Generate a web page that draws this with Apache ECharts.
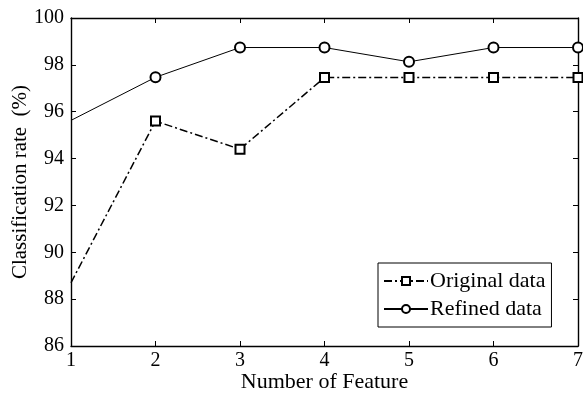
<!DOCTYPE html>
<html><head><meta charset="utf-8">
<script src="https://cdn.jsdelivr.net/npm/echarts@6/dist/echarts.min.js"></script>
<style>html,body{margin:0;padding:0;background:#fff}#c{width:583px;height:394px}</style>
</head><body><div id="c"></div>
<script>
const features = [1, 2, 3, 4, 5, 6, 7];
const originalData = [88.7, 95.6, 94.4, 97.46, 97.46, 97.46, 97.46];
const refinedData = [95.63, 97.47, 98.74, 98.74, 98.13, 98.74, 98.74];
const yTicks = [86, 88, 90, 92, 94, 96, 98, 100];

const font = 'Liberation Serif';
const chart = echarts.init(document.getElementById('c'));
const axisLine = {show: true, lineStyle: {color: '#000', width: 1.4}};
const tick = {inside: true, length: 5, lineStyle: {color: '#000', width: 1}};
// first point sits on the y axis and carries no marker in the reference
const toPoints = arr => features.map((f, i) => i === 0 ? {value: [f, arr[i]], symbol: 'none'} : [f, arr[i]]);
chart.setOption({
  animation: false,
  grid: {left: 71, right: 5, top: 18, bottom: 48, show: false, outerBoundsMode: 'none', containLabel: false},
  xAxis: [{
    type: 'value', min: 1, max: 7, interval: 1,
    name: 'Number of Feature', nameLocation: 'middle', nameGap: 25, nameMoveOverlap: false,
    nameTextStyle: {fontFamily: font, fontSize: 22, color: '#000'},
    axisLine: axisLine, axisTick: tick,
    axisLabel: {fontFamily: font, fontSize: 20, color: '#000', margin: 5},
    splitLine: {show: false}
  }, {
    type: 'value', min: 1, max: 7, interval: 1, position: 'top',
    axisLine: axisLine, axisTick: tick,
    axisLabel: {show: false}, splitLine: {show: false}
  }],
  yAxis: [{
    type: 'value', min: yTicks[0], max: yTicks[yTicks.length - 1], interval: 2,
    name: 'Classification rate  (%)', nameLocation: 'middle', nameGap: 40, nameMoveOverlap: false,
    nameTextStyle: {fontFamily: font, fontSize: 21, color: '#000'},
    axisLine: axisLine, axisTick: tick,
    axisLabel: {fontFamily: font, fontSize: 20, color: '#000', margin: 7},
    splitLine: {show: false}
  }, {
    type: 'value', min: yTicks[0], max: yTicks[yTicks.length - 1], interval: 2, position: 'right',
    axisLine: axisLine, axisTick: tick,
    axisLabel: {show: false}, splitLine: {show: false}
  }],
  legend: {
    orient: 'vertical', left: 378, top: 263,
    borderColor: '#000', borderWidth: 1, borderRadius: 0,
    padding: [5, 6, 5, 5], itemGap: 2,
    itemWidth: 44, itemHeight: 10,
    textStyle: {fontFamily: font, fontSize: 22, color: '#000', lineHeight: 26, padding: [0, 0, 0, -3]},
    data: ['Original data', 'Refined data']
  },
  series: [{
    name: 'Original data', type: 'line',
    data: toPoints(originalData),
    symbol: 'emptyRect', symbolSize: 9, clip: false,
    itemStyle: {color: '#000', borderWidth: 0.8},
    lineStyle: {color: '#000', width: 1.5, type: [8, 3, 2, 3]}
  }, {
    name: 'Refined data', type: 'line',
    data: toPoints(refinedData),
    symbol: 'emptyCircle', symbolSize: 10, clip: false,
    itemStyle: {color: '#000', borderWidth: 0.8},
    lineStyle: {color: '#000', width: 1}
  }]
});
</script></body></html>
